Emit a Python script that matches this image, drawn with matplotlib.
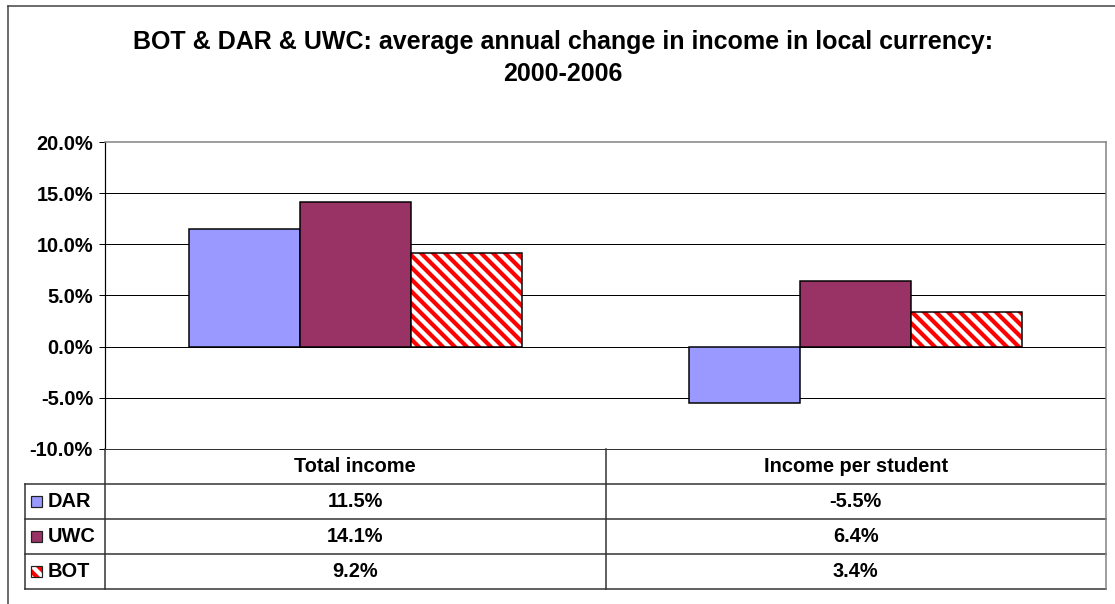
import numpy as np
import matplotlib
matplotlib.use('Agg')
import matplotlib.pyplot as plt
from matplotlib.patches import Rectangle
from matplotlib.lines import Line2D

plt.rcParams['font.family'] = ['Liberation Sans', 'DejaVu Sans']
plt.rcParams['hatch.linewidth'] = 4.2

# data
categories = ['Total income', 'Income per student']
series = ['DAR', 'UWC', 'BOT']
dar = [11.5, -5.5]
uwc = [14.1, 6.4]
bot = [9.2, 3.4]
title = 'BOT & DAR & UWC: average annual change in income in local currency:\n2000-2006'

W, H = 1115, 604
DPI = 72
fig = plt.figure(figsize=(W / DPI, H / DPI), dpi=DPI)


def fx(px):
    return px / W


def fy(py):
    return 1 - py / H


# outer chart frame (cut at right / bottom like the original)
frame_kw = dict(color='#404040', lw=1.5, transform=fig.transFigure)
fig.add_artist(Line2D([fx(8), fx(8)], [fy(6), 0], **frame_kw))
fig.add_artist(Line2D([fx(8), 1], [fy(6), fy(6)], **frame_kw))

fig.text(fx(563), fy(58), title, ha='center', va='center', fontsize=25,
         fontweight='bold', linespacing=1.45)

# plot area
plot_l, plot_r, plot_t, plot_b = 105, 1106, 142, 449
ax = fig.add_axes([fx(plot_l), fy(plot_b), fx(plot_r - plot_l),
                   (plot_b - plot_t) / H])

x = np.arange(len(categories))
bw = 0.222
vals = [dar, uwc, bot]
colors = ['#9999FF', '#993366', 'white']
for i, (v, c) in enumerate(zip(vals, colors)):
    xs = x + (i - 1) * bw
    if series[i] == 'BOT':
        ax.bar(xs, v, bw, color='white', edgecolor='#FF0000', hatch='\\\\',
               lw=0, zorder=3)
        ax.bar(xs, v, bw, fill=False, edgecolor='black', lw=1.5, zorder=4)
    else:
        ax.bar(xs, v, bw, color=c, edgecolor='black', lw=1.5, zorder=3)

ax.set_xlim(-0.5, len(categories) - 0.5)
ax.set_ylim(-10, 20)
yticks = np.arange(-10, 21, 5)
ax.set_yticks(yticks)
ax.set_yticklabels([f'{t:.1f}%' for t in yticks], fontsize=20,
                   fontweight='bold')
ax.set_xticks([])
ax.tick_params(axis='y', length=6, width=1, direction='out', pad=6)
for t in yticks[:-1]:
    ax.axhline(t, color='black', lw=1, zorder=1)
for s in ['top', 'right']:
    ax.spines[s].set_color('#808080')
    ax.spines[s].set_linewidth(1.5)
ax.spines['bottom'].set_color('black')
ax.spines['left'].set_color('black')
ax.spines['left'].set_linewidth(1.2)

# data table under the plot
tab_l, tab_b = 25, 589
mid = (plot_l + plot_r) / 2
tab = fig.add_axes([0, 0, 1, 1])
tab.set_xlim(0, W)
tab.set_ylim(H, 0)
tab.axis('off')
row_h = (tab_b - plot_b) / (len(series) + 1)
row_y = [plot_b + k * row_h for k in range(len(series) + 2)]
lc = '#303030'
for yy in row_y[1:]:
    tab.plot([tab_l, plot_r], [yy, yy], color=lc, lw=1.5)
tab.plot([tab_l, tab_l], [row_y[1], tab_b], color=lc, lw=1.5)
tab.plot([plot_l, plot_l], [plot_b, tab_b], color=lc, lw=1.5)
tab.plot([mid, mid], [plot_b, tab_b], color=lc, lw=1.5)
tab.plot([plot_r, plot_r], [plot_b, tab_b], color='#808080', lw=1.5)

col_cx = [(plot_l + mid) / 2, (mid + plot_r) / 2]
for j, cat in enumerate(categories):
    tab.text(col_cx[j], (row_y[0] + row_y[1]) / 2, cat, ha='center',
             va='center', fontsize=20, fontweight='bold')
for i, name in enumerate(series):
    cy = (row_y[i + 1] + row_y[i + 2]) / 2
    key = Rectangle((31, cy - 5.5), 11, 11, facecolor=colors[i],
                    edgecolor='#202020', lw=1.2)
    if name == 'BOT':
        key.set_hatch('\\\\')
        key.set_edgecolor('#FF0000')
        key.set_linewidth(0)
        tab.add_patch(Rectangle((31, cy - 5.5), 11, 11, fill=False,
                                edgecolor='#202020', lw=1.2, zorder=5))
    tab.add_patch(key)
    tab.text(48, cy, name, ha='left', va='center', fontsize=20,
             fontweight='bold')
    for j in range(len(categories)):
        tab.text(col_cx[j], cy, f'{vals[i][j]:.1f}%', ha='center',
                 va='center', fontsize=20, fontweight='bold')

fig.savefig('out.png', dpi=DPI)
